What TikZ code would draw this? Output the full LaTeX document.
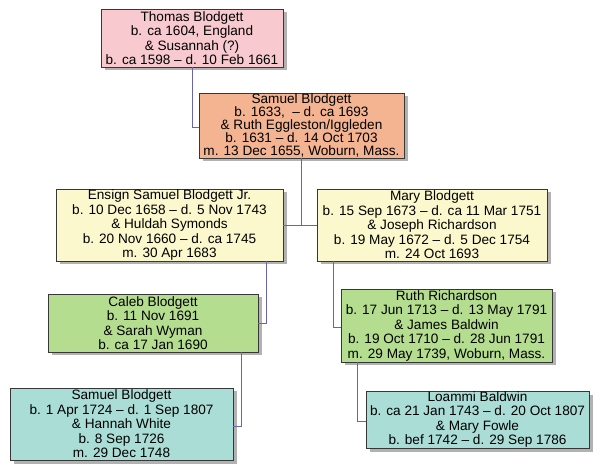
\documentclass[tikz,border=0pt]{standalone}
\usepackage{fontspec}
\setmainfont{Liberation Sans}
\usepackage{tikz}
\usetikzlibrary{shadows}
\definecolor{linkblue}{RGB}{104,100,178}
\definecolor{boxedge}{RGB}{55,55,55}
\definecolor{gen1}{RGB}{248,202,207}
\definecolor{gen2}{RGB}{244,180,146}
\definecolor{gen3}{RGB}{251,248,205}
\definecolor{gen4}{RGB}{181,221,144}
\definecolor{gen5}{RGB}{170,221,214}
\tikzstyle{person}=[rectangle,draw=boxedge,line width=0.8pt,inner sep=0pt,align=center,
                  font=\fontsize{13.6}{14.5}\selectfont,
                  drop shadow={shadow xshift=3.5pt,shadow yshift=-3.5pt,fill=black!55,opacity=0.55}]
\tikzstyle{link}=[draw=linkblue,line width=0.8pt]

\begin{document}
\begin{tikzpicture}[x=1pt,y=-1pt]
      \useasboundingbox (0,0) rectangle (600,470);
      % generation 1 and 2
      \node[person,fill=gen1,minimum width=182pt,minimum height=58pt] (thomas) at (192,38)
        {Thomas Blodgett\\b. ca 1604, England\\\& Susannah (?)\\b. ca 1598 – d. 10 Feb 1661};
      \node[person,fill=gen2,minimum width=205pt,minimum height=65pt,
            font=\fontsize{13.6}{13}\selectfont] (samuel) at (301.5,125.5)
        {Samuel Blodgett\\b. 1633, \ – d. ca 1693\\\& Ruth Eggleston/Iggleden\\b. 1631 – d. 14 Oct 1703\\m. 13 Dec 1655, Woburn, Mass.};
      % generation 3
      \node[person,fill=gen3,minimum width=227pt,minimum height=72pt] (ensign) at (169.5,225)
        {Ensign Samuel Blodgett Jr.\\b. 10 Dec 1658 – d. 5 Nov 1743\\\& Huldah Symonds\\b. 20 Nov 1660 – d. ca 1745\\m. 30 Apr 1683};
      \node[person,fill=gen3,minimum width=230pt,minimum height=72pt] (mary) at (432,225)
        {Mary Blodgett\\b. 15 Sep 1673 – d. ca 11 Mar 1751\\\& Joseph Richardson\\b. 19 May 1672 – d. 5 Dec 1754\\m. 24 Oct 1693};
      % generation 4
      \node[person,fill=gen4,minimum width=210pt,minimum height=58pt] (caleb) at (153,323)
        {Caleb Blodgett\\b. 11 Nov 1691\\\& Sarah Wyman\\b. ca 17 Jan 1690};
      \node[person,fill=gen4,minimum width=211pt,minimum height=73pt] (ruth) at (446.5,325.5)
        {Ruth Richardson\\b. 17 Jun 1713 – d. 13 May 1791\\\& James Baldwin\\b. 19 Oct 1710 – d. 28 Jun 1791\\m. 29 May 1739, Woburn, Mass.};
      % generation 5
      \node[person,fill=gen5,minimum width=223pt,minimum height=72pt] (samuelb) at (121.5,424)
        {Samuel Blodgett\\b. 1 Apr 1724 – d. 1 Sep 1807\\\& Hannah White\\b. 8 Sep 1726\\m. 29 Dec 1748};
      \node[person,fill=gen5,minimum width=223pt,minimum height=57pt] (loammi) at (477.5,419.5)
        {Loammi Baldwin\\b. ca 21 Jan 1743 – d. 20 Oct 1807\\\& Mary Fowle\\b. bef 1742 – d. 29 Sep 1786};
      % connectors
      \draw[link] (thomas.south) |- ([yshift=-2pt]samuel.west);
      \draw[link] (ensign.east) -- (mary.west);
      \draw[link] (samuel.south) -- (samuel.south |- ensign.east);
      \draw[link] ([xshift=-17pt]ensign.south east) |- (caleb.east);
      \draw[link] ([xshift=-17pt]caleb.south east) |- ([yshift=-2pt]samuelb.east);
      \draw[link] ([xshift=17pt]mary.south west) |- ([yshift=-2pt]ruth.west);
      \draw[link] ([xshift=17pt]ruth.south west) |- ([yshift=-1.5pt]loammi.west);
    \end{tikzpicture}
\end{document}
